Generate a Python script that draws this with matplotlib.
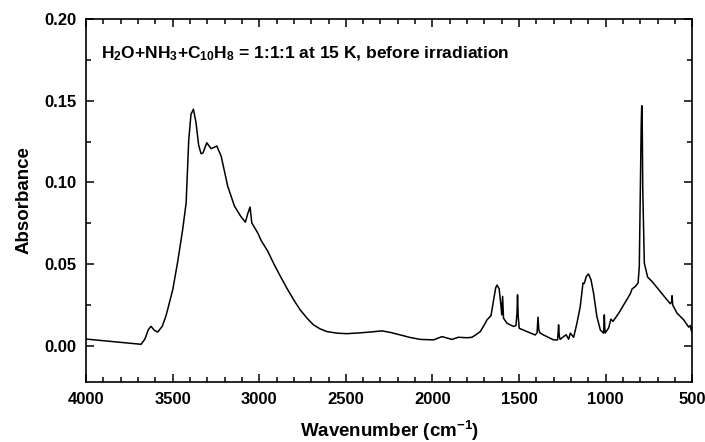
import matplotlib
matplotlib.use("Agg")
import matplotlib.pyplot as plt
from matplotlib.ticker import MultipleLocator

plt.rcParams['font.family'] = ['Liberation Sans', 'DejaVu Sans']
plt.rcParams['font.weight'] = 'bold'
plt.rcParams['mathtext.fontset'] = 'custom'
plt.rcParams['mathtext.rm'] = 'Liberation Sans:bold'
plt.rcParams['mathtext.default'] = 'rm'

# spectrum (wavenumber, absorbance)
wavenumber = [4000, 3900, 3800, 3700, 3682, 3660, 3640, 3625, 3605, 3586, 3560, 3538,
              3499, 3470, 3442, 3422, 3407, 3394, 3380, 3365, 3350, 3336, 3325, 3303,
              3278, 3260, 3245, 3220, 3182, 3143, 3105, 3080, 3066, 3053, 3043, 3008,
              2989, 2951, 2918, 2880, 2841, 2800, 2764, 2720, 2687, 2650, 2610, 2550,
              2494, 2417, 2350, 2292, 2240, 2186, 2130, 2071, 1994, 1945, 1888, 1850,
              1800, 1772, 1740, 1724, 1700, 1685, 1662, 1647, 1635, 1628, 1615, 1605,
              1600, 1595, 1590, 1570, 1532, 1518, 1512, 1509, 1505, 1499, 1455, 1407,
              1396, 1391, 1386, 1380, 1359, 1301, 1278, 1274, 1272, 1268, 1263, 1243,
              1228, 1214, 1204, 1185, 1166, 1147, 1131, 1124, 1112, 1099, 1085, 1070,
              1051, 1031, 1012, 1009, 1008, 1005, 1002, 983, 970, 958, 925, 887,
              858, 848, 829, 813, 806, 800, 795, 792, 789, 786, 777, 758,
              733, 694, 646, 627, 619, 617, 613, 588, 550, 521, 512, 505, 500]
absorbance = [0.0042, 0.0032, 0.0022, 0.0012, 0.0010, 0.0042, 0.0100, 0.0120, 0.0095, 0.0085, 0.0120, 0.0185,
              0.0345, 0.0520, 0.0712, 0.0875, 0.1260, 0.1417, 0.1448, 0.1366, 0.1230, 0.1176, 0.1180, 0.1243,
              0.1207, 0.1215, 0.1223, 0.1162, 0.0977, 0.0855, 0.0790, 0.0757, 0.0810, 0.0850, 0.0753, 0.0690,
              0.0645, 0.0580, 0.0507, 0.0430, 0.0354, 0.0280, 0.0221, 0.0165, 0.0129, 0.0105, 0.0088, 0.0078,
              0.0075, 0.0080, 0.0086, 0.0092, 0.0082, 0.0067, 0.0052, 0.0040, 0.0037, 0.0057, 0.0040, 0.0053,
              0.0050, 0.0053, 0.0075, 0.0088, 0.0130, 0.0160, 0.0185, 0.0282, 0.0355, 0.0372, 0.0350, 0.0250,
              0.0190, 0.0303, 0.0170, 0.0139, 0.0119, 0.0125, 0.0200, 0.0313, 0.0180, 0.0108, 0.0088, 0.0067,
              0.0080, 0.0176, 0.0100, 0.0080, 0.0067, 0.0037, 0.0037, 0.0090, 0.0129, 0.0060, 0.0040, 0.0057,
              0.0068, 0.0041, 0.0078, 0.0053, 0.0139, 0.0240, 0.0385, 0.0382, 0.0425, 0.0440, 0.0405, 0.0323,
              0.0180, 0.0098, 0.0078, 0.0150, 0.0190, 0.0100, 0.0080, 0.0110, 0.0164, 0.0150, 0.0200, 0.0268,
              0.0319, 0.0348, 0.0364, 0.0385, 0.0487, 0.0957, 0.1350, 0.1470, 0.1350, 0.0957, 0.0507, 0.0421,
              0.0395, 0.0344, 0.0282, 0.0258, 0.0270, 0.0307, 0.0250, 0.0200, 0.0160, 0.0115, 0.0125, 0.0090, 0.0120]

fig = plt.figure(figsize=(7.05, 4.42), dpi=100)
ax = fig.add_axes([0.122, 0.136, 0.860, 0.821])

ax.plot(wavenumber, absorbance, color='black', linewidth=1.1)

ax.set_xlim(4000, 500)
ax.set_ylim(-0.022, 0.2)
ax.xaxis.set_major_locator(MultipleLocator(500))
ax.xaxis.set_minor_locator(MultipleLocator(100))
ax.yaxis.set_major_locator(MultipleLocator(0.05))
ax.yaxis.set_minor_locator(MultipleLocator(0.025))
ax.yaxis.set_major_formatter(plt.FuncFormatter(lambda v, p: f"{v:.2f}"))

ax.tick_params(which='both', direction='in', top=True, right=True, labelsize=12, width=1.1, pad=7)
ax.tick_params(which='major', length=6)
ax.tick_params(which='minor', length=3.5)
for s in ax.spines.values():
    s.set_linewidth(1.2)

ax.set_xlabel('Wavenumber (cm$^{-1}$)', fontsize=13.5, fontweight='bold', labelpad=9)
ax.set_ylabel('Absorbance', fontsize=13.5, fontweight='bold', labelpad=8)

ax.text(0.025, 0.905, 'H$_2$O+NH$_3$+C$_{10}$H$_8$ = 1:1:1 at 15 K, before irradiation',
        transform=ax.transAxes, fontsize=12.5, fontweight='bold', va='center', ha='left')

fig.savefig('out.png', dpi=100)
